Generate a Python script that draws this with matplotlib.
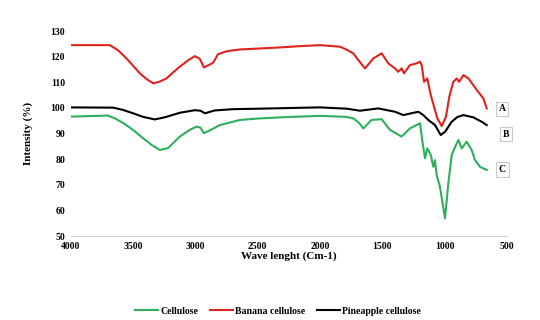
#!/usr/bin/env python3

import numpy as np
import matplotlib.pyplot as plt

# wavenumber / intensity
banana_w = [4000, 3687, 3620, 3553, 3500, 3446, 3390, 3339, 3290, 3232, 3180, 3125, 3060, 3005,
            2965, 2932, 2858, 2818, 2740, 2643, 2483, 2322, 2162, 2001, 1841, 1790, 1734, 1690,
            1640, 1573, 1506, 1453, 1399, 1373, 1346, 1327, 1279, 1225, 1198, 1185, 1166, 1140,
            1112, 1086, 1059, 1024, 990, 963, 931, 904, 884, 850, 810, 743, 690, 663]
banana_v = [124.5, 124.5, 122.5, 119.3, 116.5, 113.5, 111.2, 109.6, 110.2, 111.5, 113.8, 116.1, 118.5, 120.2,
            119.2, 115.8, 117.6, 121, 122.2, 122.8, 123.2, 123.6, 124.1, 124.5, 123.9, 122.8, 121.3, 118.5,
            115.4, 119.3, 121.3, 117.4, 115.4, 114.1, 115.4, 113.5, 116.7, 117.4, 118, 116.7, 110.2, 111.5,
            105, 100.5, 95.9, 92.9, 96.6, 104.4, 110.2, 111.5, 110.2, 112.8, 111.5, 107, 103.7, 99.8]

pine_w = [4000, 3660, 3580, 3500, 3420, 3326, 3240, 3125, 3005, 2960, 2924, 2845, 2700, 2483,
          2200, 2001, 1787, 1680, 1533, 1399, 1332, 1212, 1172, 1132, 1078, 1032, 997, 944,
          900, 850, 770, 700, 663]
pine_v = [100.2, 100.1, 99.2, 97.9, 96.5, 95.5, 96.4, 98.1, 99.1, 98.9, 97.9, 99, 99.5, 99.7,
          100, 100.2, 99.7, 98.9, 99.8, 98.5, 97.2, 98.5, 97.2, 95.3, 93.3, 89.4, 90.7, 94.6,
          96.4, 97.2, 96.3, 94.5, 93.3]

cell_w = [4000, 3700, 3640, 3570, 3500, 3420, 3350, 3286, 3220, 3125, 3050, 2991, 2960, 2932,
          2858, 2804, 2643, 2483, 2322, 2001, 1790, 1734, 1690, 1653, 1587, 1506, 1439, 1346,
          1279, 1198, 1177, 1158, 1140, 1112, 1092, 1078, 1065, 1038, 998, 971, 944, 917,
          890, 864, 824, 784, 757, 717, 663]
cell_v = [96.6, 97, 95.8, 93.8, 91.4, 88.2, 85.5, 83.6, 84.3, 88.8, 91.3, 92.7, 92.3, 90.1,
          91.9, 93.3, 95.3, 95.9, 96.3, 96.9, 96.5, 95.9, 94.3, 92, 95.3, 95.6, 91.4, 88.8,
          92, 94, 86.2, 80.3, 84.2, 81.6, 77, 79.6, 73.8, 69.2, 56.9, 70.6, 81.6, 84.8,
          87.5, 84.2, 86.8, 83.6, 79.6, 77, 75.8]

yticks = [50, 60, 70, 80, 90, 100, 110, 120, 130]
xticks = [4000, 3500, 3000, 2500, 2000, 1500, 1000, 500]

green = '#2fae5e'
red = '#e0221d'

plt.rcParams['font.family'] = ['Liberation Serif', 'DejaVu Serif']
plt.rcParams['font.weight'] = 'bold'

fig = plt.figure(figsize=(5.4, 3.2), dpi=100)
ax = fig.add_axes([0.131, 0.2625, 0.808, 0.6405])

ax.plot(cell_w, cell_v, color=green, lw=1.5, label='Cellulose')
ax.plot(banana_w, banana_v, color=red, lw=1.5, label='Banana cellulose')
ax.plot(pine_w, pine_v, color='black', lw=1.5, label='Pineapple cellulose')

ax.set_xlim(4000, 500)
ax.set_ylim(50, 130)
ax.set_xticks(xticks)
ax.set_yticks(yticks)
ax.tick_params(length=0, labelsize=7, pad=4)
for s in ['top', 'right', 'left']:
    ax.spines[s].set_visible(False)
ax.spines['bottom'].set_color('#d0d0d0')
ax.spines['bottom'].set_linewidth(0.8)

ax.set_xlabel('Wave lenght (Cm-1)', fontsize=8, fontweight='bold', labelpad=0.5)
ax.set_ylabel('Intensity (%)', fontsize=8, fontweight='bold', labelpad=13)

box = dict(boxstyle='square,pad=0.3', fc='white', ec='#c8c8c8', lw=0.8)
ax.text(540, 99.6, 'A', fontsize=7, fontweight='bold', ha='center', va='center', bbox=box, clip_on=False)
ax.text(508, 89.8, 'B', fontsize=7, fontweight='bold', ha='center', va='center', bbox=box, clip_on=False)
ax.text(540, 75.8, 'C', fontsize=7, fontweight='bold', ha='center', va='center', bbox=box, clip_on=False)

fig.legend(loc='center', bbox_to_anchor=(0.515, 0.027), ncol=3, frameon=False,
           fontsize=7, handlelength=2.4, handletextpad=0.2, columnspacing=1.2)

fig.savefig('out.png', dpi=100)
